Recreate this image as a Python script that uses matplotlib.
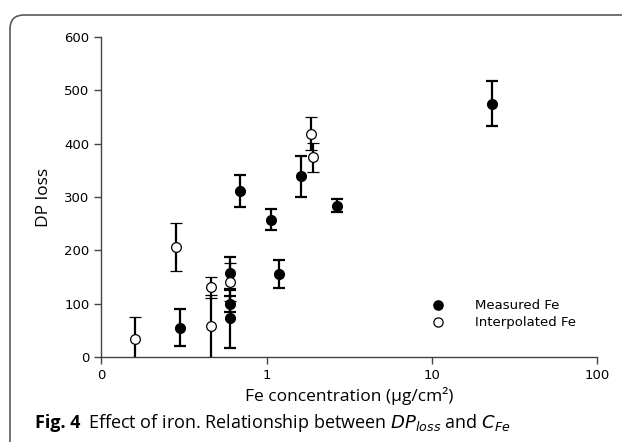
import numpy as np
import matplotlib
matplotlib.use("Agg")
import matplotlib.pyplot as plt
from matplotlib.patches import FancyBboxPatch
from matplotlib.transforms import IdentityTransform

CAP_FONT = ["Liberation Sans Narrow", "Open Sans"]
plt.rcParams["mathtext.fontset"] = "custom"
plt.rcParams["mathtext.rm"] = "Liberation Sans Narrow"
plt.rcParams["mathtext.it"] = "Liberation Sans Narrow:italic"

# measured Fe points
meas_fe = [0.30, 0.597, 0.597, 0.597, 0.693, 1.07, 1.19, 1.62, 2.65, 23.1]
meas_dp = [55, 157, 100, 73, 311, 258, 156, 339, 284, 475]
meas_err = [35, 31, 15, 55, 30, 19, 26, 39, 12, 42]

# interpolated Fe points
interp_fe = [0.16, 0.282, 0.458, 0.458, 0.597, 1.86, 1.92]
interp_dp = [34, 207, 131, 58, 141, 419, 375]
interp_err = [42, 45, 20, 59, 36, 31, 27]

xticks = [0.1, 1, 10, 100]
xticklabels = ["0", "1", "10", "100"]
yticks = [0, 100, 200, 300, 400, 500, 600]

fig = plt.figure(figsize=(6.22, 4.42), dpi=100)

# rounded frame of the figure panel
frame = FancyBboxPatch((10, -30), 660, 457, boxstyle="round,pad=0,rounding_size=14",
                       transform=IdentityTransform(), fc="none", ec="#5a5a5a", lw=1.2)
fig.patches.append(frame)

ax = fig.add_axes([0.163, 0.192, 0.797, 0.724])
ekw = dict(fmt="o", ms=7, ecolor="black", elinewidth=1.6, capsize=4.5, capthick=1.6)
ax.errorbar(meas_fe, meas_dp, yerr=meas_err, mfc="black", mec="black", zorder=3,
            label="Measured Fe", **ekw)
ax.errorbar(interp_fe, interp_dp, yerr=interp_err, mfc="white", mec="black", mew=0.9,
            zorder=4, label="Interpolated Fe", **ekw)

ax.set_xscale("log")
ax.set_xlim(0.1, 100)
ax.set_ylim(0, 600)
ax.set_xticks(xticks)
ax.set_xticklabels(xticklabels)
ax.minorticks_off()
ax.set_yticks(yticks)
for s in ("top", "right"):
    ax.spines[s].set_visible(False)
for s in ("left", "bottom"):
    ax.spines[s].set_color("#444444")
    ax.spines[s].set_linewidth(1.0)
ax.tick_params(direction="out", length=5, width=1.0, color="#444444", labelsize=9.5)

ax.set_xlabel("Fe concentration (µg/cm²)", family="Open Sans", fontsize=12.5, labelpad=4)
ax.set_ylabel("DP loss", family="Open Sans", fontsize=12.5, labelpad=9)

h, l = ax.get_legend_handles_labels()
h = [hh[0] for hh in h]
ax.legend(h, l, loc="lower left", bbox_to_anchor=(0.64, 0.05), frameon=False,
          handlelength=1.2, handletextpad=2.2, fontsize=9.5, labelspacing=0.3,
          markerscale=0.95)

fig.text(0.056, 0.032, "Fig. 4", family=CAP_FONT, fontweight="bold", fontsize=13,
         va="baseline")
fig.text(0.142, 0.032, r"Effect of iron. Relationship between $DP_{loss}$ and $C_{Fe}$",
         family=CAP_FONT, fontsize=13, va="baseline")

fig.savefig("out.png", dpi=100)
